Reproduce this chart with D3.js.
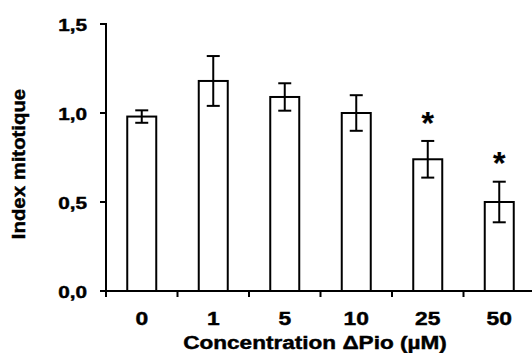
<!DOCTYPE html>
<html>
<head>
<meta charset="utf-8">
<script src="https://cdn.jsdelivr.net/npm/d3@7"></script>
<style>
  html, body { margin: 0; padding: 0; background: #fff; }
  svg { display: block; }
  text { font-family: "Liberation Sans", Arial, sans-serif; font-weight: bold; fill: #000; stroke: #000; stroke-width: 0.45px; }
  text.star { stroke-width: 0.2px; }
</style>
</head>
<body>
<svg id="chart" width="532" height="353"></svg>
<script>
// ---- data ----
const concentrations = ["0", "1", "5", "10", "25", "50"];
const meanValues = [0.98, 1.18, 1.09, 1.00, 0.74, 0.50];
const errorValues = [0.035, 0.14, 0.077, 0.10, 0.103, 0.114];
const significant = [false, false, false, false, true, true];
const yTicks = [0, 0.5, 1.0, 1.5];
const yTickLabels = ["0,0", "0,5", "1,0", "1,5"];
const xTitle = "Concentration \u0394Pio (\u00B5M)";
const yTitle = "Index mitotique";

const svg = d3.select("#chart");
const plotLeft = 106, plotRight = 535, plotTop = 24, plotBottom = 291;

const x = d3.scaleBand().domain(concentrations).range([plotLeft, plotRight]).paddingInner(0).paddingOuter(0);
const y = d3.scaleLinear().domain([0, 1.5]).range([plotBottom, plotTop]);
const barW = 29;
const capW = 13;

// stretched text helper
function stretchText(sel, sx) {
  sel.each(function() {
    const t = d3.select(this);
    const tx = +t.attr("x"), ty = +t.attr("y");
    t.attr("x", 0).attr("y", 0).attr("transform", `translate(${tx},${ty}) scale(${sx},1)`);
  });
}

// bars
svg.append("g").selectAll("rect").data(concentrations).join("rect")
  .attr("x", (d) => x(d) + x.bandwidth() / 2 - barW / 2)
  .attr("y", (d, i) => y(meanValues[i]))
  .attr("width", barW)
  .attr("height", (d, i) => y(0) - y(meanValues[i]))
  .attr("fill", "#fff").attr("stroke", "#000").attr("stroke-width", 2);

// error bars
const eg = svg.append("g").attr("stroke", "#000").attr("stroke-width", 2);
concentrations.forEach((c, i) => {
  const cx = x(c) + x.bandwidth() / 2;
  const hi = y(meanValues[i] + errorValues[i]);
  const lo = y(meanValues[i] - errorValues[i]);
  eg.append("line").attr("x1", cx).attr("x2", cx).attr("y1", hi).attr("y2", lo);
  eg.append("line").attr("x1", cx - capW / 2).attr("x2", cx + capW / 2).attr("y1", hi).attr("y2", hi);
  eg.append("line").attr("x1", cx - capW / 2).attr("x2", cx + capW / 2).attr("y1", lo).attr("y2", lo);
});

// significance stars
const starSize = 32;
svg.append("g").selectAll("text").data(concentrations.filter((c, i) => significant[i])).join("text")
  .attr("class", "star")
  .attr("x", (d) => x(d) + x.bandwidth() / 2)
  .attr("y", (d) => { const i = concentrations.indexOf(d); return y(meanValues[i] + errorValues[i]) - 26 + 0.58 * starSize; })
  .attr("text-anchor", "middle")
  .style("font-size", starSize + "px")
  .text("*");

// y axis
const ya = svg.append("g").attr("stroke", "#000").attr("stroke-width", 2);
ya.append("line").attr("x1", plotLeft).attr("x2", plotLeft).attr("y1", plotTop - 1).attr("y2", plotBottom + 1);
ya.selectAll("line.tick").data(yTicks).join("line").attr("class", "tick")
  .attr("x1", plotLeft - 6).attr("x2", plotLeft).attr("y1", (d) => y(d)).attr("y2", (d) => y(d));

svg.append("g").selectAll("text").data(yTicks).join("text")
  .attr("x", 87).attr("y", (d) => y(d) + 6.5)
  .attr("text-anchor", "end")
  .style("font-size", "17px")
  .text((d, i) => yTickLabels[i])
  .call(stretchText, 1.22);

// x axis
const xa = svg.append("g").attr("stroke", "#000").attr("stroke-width", 2);
xa.append("line").attr("x1", plotLeft - 6).attr("x2", 532).attr("y1", plotBottom).attr("y2", plotBottom);
const bounds = concentrations.map((c) => x(c)).concat([x.range()[1]]);
xa.selectAll("line.tick").data(bounds).join("line").attr("class", "tick")
  .attr("x1", (d) => d).attr("x2", (d) => d).attr("y1", plotBottom).attr("y2", plotBottom + 6);

svg.append("g").selectAll("text").data(concentrations).join("text")
  .attr("x", (d) => x(d) + x.bandwidth() / 2).attr("y", 325)
  .attr("text-anchor", "middle")
  .style("font-size", "19px")
  .text((d) => d)
  .call(stretchText, 1.2);

// axis titles
svg.append("text")
  .attr("x", 315).attr("y", 349)
  .attr("text-anchor", "middle")
  .style("font-size", "18.5px")
  .text(xTitle)
  .call(stretchText, 1.22);

svg.append("text")
  .attr("transform", "translate(25,164) rotate(-90) scale(1.1,1)")
  .attr("text-anchor", "middle")
  .style("font-size", "18.5px")
  .text(yTitle);
</script>
</body>
</html>
